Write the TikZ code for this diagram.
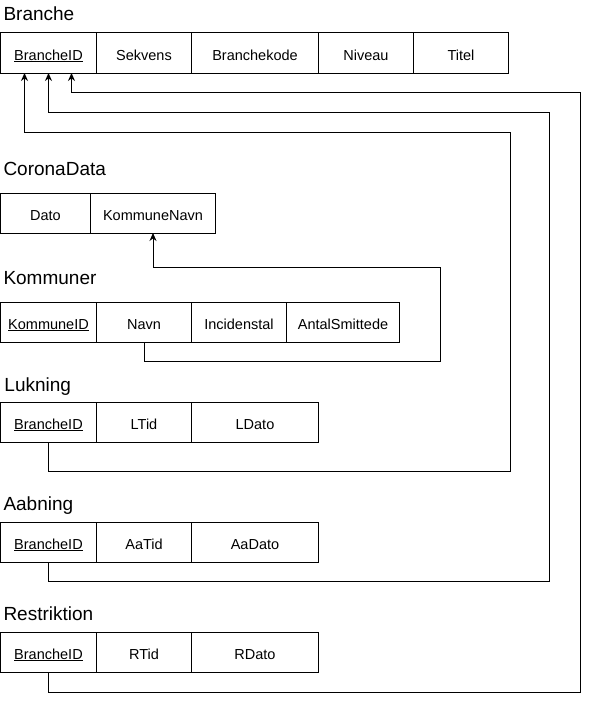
\documentclass[tikz,border=0pt]{standalone}
\usepackage{fontspec}
\setmainfont{Liberation Sans}
\usetikzlibrary{arrows.meta,positioning}

\begin{document}
\begin{tikzpicture}[>={Stealth[length=8pt,width=7pt]},x=1pt,y=-1pt,line width=1pt,
  cell/.style={draw,minimum height=40pt,inner sep=0pt,outer sep=0pt,text height=14pt,text depth=0pt,font=\fontsize{14.5}{16}\selectfont},
  title/.style={anchor=base west,inner sep=0pt,font=\fontsize{19}{22}\selectfont}]
  \useasboundingbox (0,0) rectangle (589,701);

  % Branche
  \node[title] (tB) at (3,21) {Branche};
  \node[cell,minimum width=96pt,anchor=north west] (bID) at (0.5,33) {\underline{BrancheID}};
  \node[cell,minimum width=95pt,right=0pt of bID]   (bSek)  {Sekvens};
  \node[cell,minimum width=127pt,right=0pt of bSek] (bKode) {Branchekode};
  \node[cell,minimum width=95pt,right=0pt of bKode] (bNiv)  {Niveau};
  \node[cell,minimum width=95pt,right=0pt of bNiv]  (bTit)  {Titel};

  % CoronaData
  \node[title] (tC) at (3,175) {CoronaData};
  \node[cell,minimum width=90pt,anchor=north west] (cDato) at (0.5,193) {Dato};
  \node[cell,minimum width=125pt,right=0pt of cDato] (cKN) {KommuneNavn};

  % Kommuner
  \node[title] (tK) at (3,284) {Kommuner};
  \node[cell,minimum width=96pt,anchor=north west] (kID) at (0.5,302) {\underline{KommuneID}};
  \node[cell,minimum width=95pt,right=0pt of kID]  (kNavn) {Navn};
  \node[cell,minimum width=95pt,right=0pt of kNavn] (kInc) {Incidenstal};
  \node[cell,minimum width=113pt,right=0pt of kInc] (kAnt) {AntalSmittede};

  % Lukning
  \node[title] (tL) at (4,391) {Lukning};
  \node[cell,minimum width=96pt,anchor=north west] (lID) at (0.5,402) {\underline{BrancheID}};
  \node[cell,minimum width=95pt,right=0pt of lID]  (lTid)  {LTid};
  \node[cell,minimum width=127pt,right=0pt of lTid] (lDato) {LDato};

  % Aabning
  \node[title] (tA) at (3,510) {Aabning};
  \node[cell,minimum width=96pt,anchor=north west] (aID) at (0.5,522) {\underline{BrancheID}};
  \node[cell,minimum width=95pt,right=0pt of aID]  (aTid)  {AaTid};
  \node[cell,minimum width=127pt,right=0pt of aTid] (aDato) {AaDato};

  % Restriktion
  \node[title] (tR) at (3,620) {Restriktion};
  \node[cell,minimum width=96pt,anchor=north west] (rID) at (0.5,632) {\underline{BrancheID}};
  \node[cell,minimum width=95pt,right=0pt of rID]  (rTid)  {RTid};
  \node[cell,minimum width=127pt,right=0pt of rTid] (rDato) {RDato};

  \draw[->] (kNavn.south) -- ++(0,19) -| (440,267) -| (cKN.south);
  \draw[->] (lID.south) -- ++(0,29) -| (510,132) -| ([xshift=-24pt]bID.south);
  \draw[->] (aID.south) -- ++(0,19) -| (549,112) -| (bID.south);
  \draw[->] (rID.south) -- ++(0,20) -| (580,92) -| ([xshift=23pt]bID.south);
\end{tikzpicture}
\end{document}
